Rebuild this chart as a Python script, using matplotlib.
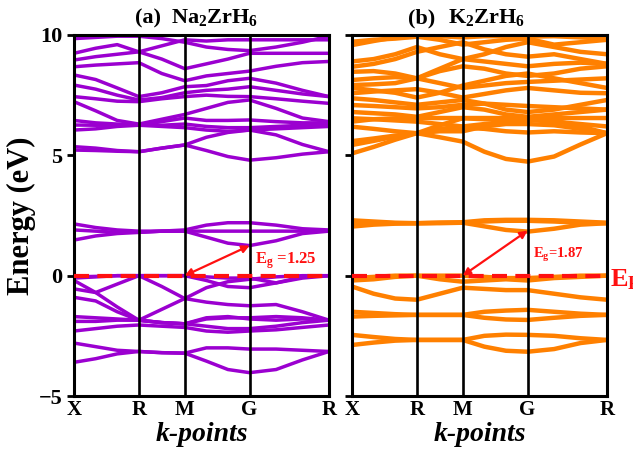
import matplotlib
matplotlib.use("Agg")
import matplotlib.pyplot as plt

plt.rcParams['font.family'] = 'Liberation Serif'
plt.rcParams['font.weight'] = 'bold'
plt.rcParams['mathtext.fontset'] = 'custom'
plt.rcParams['mathtext.rm'] = 'Liberation Serif:bold'
plt.rcParams['mathtext.it'] = 'Liberation Serif:bold:italic'
plt.rcParams['mathtext.bf'] = 'Liberation Serif:bold'
plt.rcParams['mathtext.default'] = 'rm'

# k-path X-R-M-G-R (high symmetry positions and sampled k values)
hs_pos = [0.0, 0.707, 1.207, 1.914, 2.780]
hs_labels = ['X', 'R', 'M', 'G', 'R']
kpts = [0.0, 0.236, 0.471, 0.707, 0.957, 1.207, 1.443, 1.678, 1.914, 2.203, 2.491, 2.780]

# Na2ZrH6 bands (eV), values read at kpts
na_valence = [
    [-0.10, -0.05, 0.00, 0.00, 0.00, 0.00, -0.05, -0.10, -0.10, -0.30, -0.10, 0.00],
    [-0.05, -0.03, 0.00, 0.00, 0.00, 0.00, -0.20, -0.45, -0.50, -0.30, -0.05, 0.00],
    [-0.20, -0.70, -0.35, 0.00, -0.45, -0.95, -0.50, -0.25, -0.15, -0.05, 0.00, 0.00],
    [-0.55, -0.70, -1.30, -1.85, -1.40, -0.95, -1.10, -1.20, -1.25, -1.20, -1.50, -1.85],
    [-0.90, -1.05, -1.50, -1.85, -1.95, -2.00, -1.80, -1.75, -1.75, -1.70, -1.75, -1.85],
    [-1.70, -1.75, -1.80, -1.85, -1.95, -2.00, -1.75, -1.70, -1.80, -1.85, -1.80, -1.85],
    [-1.90, -1.90, -1.85, -1.85, -1.95, -2.00, -2.10, -2.20, -2.20, -2.10, -1.95, -1.85],
    [-2.30, -2.20, -2.10, -2.05, -2.10, -2.15, -2.30, -2.35, -2.30, -2.25, -2.15, -2.05],
    [-2.80, -2.95, -3.10, -3.15, -3.20, -3.22, -3.00, -3.00, -3.05, -3.05, -3.10, -3.15],
    [-3.60, -3.45, -3.25, -3.15, -3.20, -3.22, -3.55, -3.90, -4.03, -3.90, -3.50, -3.15],
]
na_conduction = [
    [1.48, 1.65, 1.75, 1.80, 1.85, 1.85, 1.60, 1.35, 1.25, 1.45, 1.75, 1.85],
    [1.90, 1.85, 1.80, 1.80, 1.85, 1.85, 1.85, 1.85, 1.85, 1.85, 1.85, 1.85],
    [2.15, 2.00, 1.90, 1.85, 1.85, 1.90, 2.10, 2.20, 2.20, 2.10, 1.95, 1.90],
    [5.22, 5.20, 5.17, 5.15, 5.30, 5.43, 5.20, 4.95, 4.80, 4.90, 5.05, 5.15],
    [5.36, 5.30, 5.20, 5.15, 5.30, 5.43, 5.75, 5.95, 6.05, 5.85, 5.45, 5.15],
    [6.05, 6.10, 6.20, 6.25, 6.20, 6.15, 6.05, 6.00, 6.05, 6.10, 6.15, 6.20],
    [6.26, 6.25, 6.25, 6.25, 6.25, 6.30, 6.20, 6.15, 6.15, 6.20, 6.25, 6.30],
    [6.45, 6.35, 6.30, 6.25, 6.40, 6.55, 6.45, 6.45, 6.47, 6.40, 6.35, 6.35],
    [7.23, 6.85, 6.45, 6.30, 6.50, 6.70, 6.95, 7.20, 7.30, 6.95, 6.55, 6.40],
    [7.44, 7.35, 7.25, 7.23, 7.35, 7.44, 7.50, 7.45, 7.44, 7.35, 7.25, 7.16],
    [7.92, 7.75, 7.50, 7.30, 7.40, 7.60, 7.70, 7.75, 7.85, 7.70, 7.55, 7.44],
    [8.34, 8.15, 7.80, 7.44, 7.60, 7.85, 7.90, 8.10, 8.20, 8.00, 7.70, 7.44],
    [8.68, 8.75, 8.80, 8.85, 8.40, 8.10, 8.30, 8.40, 8.50, 8.70, 8.85, 8.90],
    [8.96, 9.10, 9.20, 9.30, 9.00, 8.60, 8.80, 9.00, 9.24, 9.24, 9.24, 9.24],
    [9.24, 9.45, 9.60, 9.30, 9.55, 9.80, 9.75, 9.80, 9.80, 9.80, 9.80, 9.80],
    [9.85, 9.90, 9.95, 9.95, 9.85, 9.70, 9.50, 9.40, 9.35, 9.50, 9.70, 9.95],
]

# K2ZrH6 bands (eV)
k_valence = [
    [-0.10, -0.05, 0.00, 0.00, 0.00, 0.00, -0.05, -0.10, -0.10, -0.05, 0.00, 0.00],
    [-0.20, -0.15, -0.05, 0.00, -0.15, -0.25, -0.20, -0.15, -0.20, -0.10, -0.05, 0.00],
    [-0.45, -0.75, -0.95, -1.00, -0.75, -0.50, -0.55, -0.60, -0.60, -0.75, -0.90, -1.00],
    [-1.50, -1.55, -1.60, -1.63, -1.63, -1.63, -1.50, -1.45, -1.42, -1.50, -1.58, -1.63],
    [-1.70, -1.67, -1.65, -1.63, -1.63, -1.63, -1.75, -1.82, -1.84, -1.75, -1.67, -1.63],
    [-2.46, -2.55, -2.63, -2.67, -2.67, -2.67, -2.50, -2.45, -2.46, -2.50, -2.60, -2.67],
    [-2.88, -2.78, -2.70, -2.67, -2.67, -2.67, -2.95, -3.12, -3.16, -3.05, -2.80, -2.67],
]
k_conduction = [
    [2.04, 2.12, 2.16, 2.18, 2.18, 2.20, 2.05, 1.90, 1.83, 1.95, 2.12, 2.18],
    [2.20, 2.20, 2.18, 2.18, 2.20, 2.20, 2.25, 2.28, 2.28, 2.25, 2.20, 2.18],
    [2.30, 2.25, 2.20, 2.18, 2.20, 2.22, 2.30, 2.32, 2.32, 2.30, 2.25, 2.20],
    [5.08, 5.35, 5.65, 5.92, 5.75, 5.57, 5.15, 4.85, 4.74, 4.95, 5.45, 5.92],
    [5.43, 5.60, 5.78, 5.92, 6.10, 6.15, 6.10, 6.00, 5.95, 6.00, 5.95, 5.92],
    [5.59, 5.70, 5.82, 5.92, 6.00, 6.00, 6.20, 6.30, 6.30, 6.25, 6.10, 5.92],
    [6.19, 6.10, 6.00, 5.92, 6.25, 6.54, 6.50, 6.50, 6.50, 6.45, 6.20, 5.92],
    [6.40, 6.50, 6.54, 6.55, 6.55, 6.55, 6.55, 6.55, 6.54, 6.55, 6.55, 6.55],
    [6.54, 6.50, 6.45, 6.40, 6.30, 6.20, 6.30, 6.40, 6.47, 6.40, 6.30, 6.20],
    [6.80, 6.75, 6.70, 6.60, 6.80, 7.00, 6.90, 6.70, 6.60, 6.70, 6.80, 6.90],
    [7.09, 7.05, 7.00, 6.95, 7.00, 7.10, 7.15, 7.10, 7.05, 7.00, 6.95, 6.90],
    [7.37, 7.30, 7.20, 7.10, 7.20, 7.30, 7.15, 6.90, 6.80, 6.90, 7.10, 7.30],
    [7.58, 7.65, 7.70, 7.75, 7.60, 7.40, 7.55, 7.70, 7.80, 7.70, 7.60, 7.58],
    [7.80, 7.70, 7.60, 7.40, 7.60, 7.90, 8.10, 8.30, 8.40, 8.20, 8.00, 7.80],
    [7.92, 7.95, 8.00, 8.20, 8.00, 7.80, 7.90, 8.00, 8.05, 8.10, 8.15, 8.20],
    [8.13, 8.20, 8.25, 8.20, 8.50, 8.70, 8.60, 8.40, 8.30, 8.40, 8.60, 8.70],
    [8.47, 8.50, 8.40, 8.20, 8.60, 9.00, 8.90, 8.80, 8.70, 8.80, 8.85, 8.80],
    [8.68, 8.80, 9.00, 9.30, 9.50, 9.70, 9.40, 9.20, 9.10, 9.20, 9.00, 8.80],
    [8.90, 9.00, 9.20, 9.50, 9.20, 9.00, 9.20, 9.50, 9.70, 9.50, 9.30, 9.20],
    [9.58, 9.75, 9.90, 9.93, 9.80, 9.60, 9.70, 9.80, 9.85, 9.60, 9.70, 9.80],
    [9.72, 9.80, 9.85, 9.93, 9.95, 9.90, 9.95, 9.95, 9.93, 9.95, 9.90, 9.85],
]

gaps = [1.25, 1.87]

W, H = 633, 449
fig = plt.figure(figsize=(W / 100, H / 100), dpi=100)
ax1 = fig.add_axes([74 / W, 1 - 396 / H, 255 / W, 361 / H])
ax2 = fig.add_axes([352 / W, 1 - 396 / H, 255 / W, 361 / H])

panels = [
    (ax1, na_valence + na_conduction, '#9B00D0', 2.5, gaps[0]),
    (ax2, k_valence + k_conduction, '#FF8000', 3.2, gaps[1]),
]

for ax, bands, color, lw, eg in panels:
    for b in bands:
        ax.plot(kpts, b, color=color, lw=lw, solid_joinstyle='round', zorder=2)
    for x in hs_pos[1:-1]:
        ax.axvline(x, color='black', lw=1.9, zorder=3)
    ax.plot([hs_pos[0], hs_pos[-1]], [0, 0], color='#FF1010', lw=3.0,
            linestyle=(0, (3.6, 2.0)), zorder=5)
    ax.annotate('', xy=(hs_pos[3], eg), xytext=(hs_pos[2], 0.0),
                arrowprops=dict(arrowstyle='<|-|>', color='#FF1010', lw=1.6,
                                mutation_scale=11, shrinkA=0, shrinkB=0), zorder=6)
    ax.set_xlim(hs_pos[0], hs_pos[-1])
    ax.set_ylim(-5, 10)
    ax.set_xticks(hs_pos)
    ax.set_xticklabels(hs_labels, fontsize=15, fontweight='bold')
    ax.set_yticks([-5, 0, 5, 10])
    ax.tick_params(axis='x', length=0, pad=3)
    ax.tick_params(axis='y', direction='out', length=5, width=2, labelsize=16)
    for s in ax.spines.values():
        s.set_linewidth(2.2)
    ax.set_xlabel('k-points', fontsize=20, fontweight='bold', style='italic', labelpad=1)

ax2.set_yticklabels([])
ax1.set_ylabel('Energy (eV)', fontsize=22, fontweight='bold', labelpad=2)

fig.text(148 / W, 1 - 18 / H, '(a)', fontsize=16, fontweight='bold', ha='center', va='center')
fig.text(215 / W, 1 - 18 / H, 'Na$_2$ZrH$_6$', fontsize=16, ha='center', va='center')
fig.text(422 / W, 1 - 18 / H, '(b)', fontsize=16, fontweight='bold', ha='center', va='center')
fig.text(487 / W, 1 - 18 / H, 'K$_2$ZrH$_6$', fontsize=16, ha='center', va='center')

fig.text(255 / W, 1 - 261 / H, 'E$_g$ =1.25', fontsize=12, color='#FF1010', va='center')
fig.text(533 / W, 1 - 255 / H, 'E$_g$=1.87', fontsize=10.5, color='#FF1010', va='center')
fig.text(610 / W, 1 - 280 / H, 'E$_F$', fontsize=19, color='#FF1010', va='center')

fig.savefig('out.png', dpi=100)
